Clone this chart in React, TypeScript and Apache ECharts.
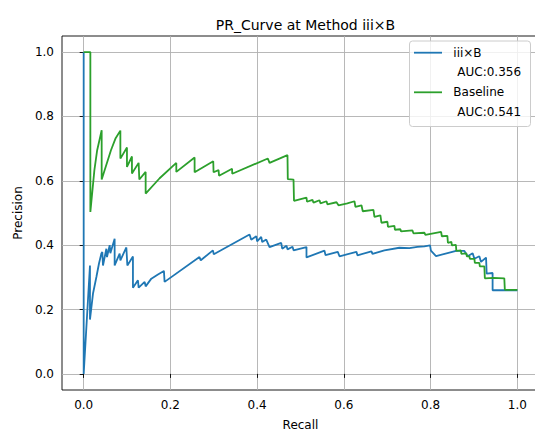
import React, { useEffect, useRef } from "react";
import * as echarts from "echarts";

const titleText = "PR_Curve at Method iii×B";
const xTicks = [0, 0.2, 0.4, 0.6, 0.8, 1.0];
const yTicks = [0, 0.2, 0.4, 0.6, 0.8, 1.0];

const seriesNames = ["iii×B", "Baseline"];
const aucLabels = ["AUC:0.356", "AUC:0.541"];
const seriesColors = ["#1f77b4", "#2ca02c"];

// [recall, precision]
const iiiCurve: [number, number][] = [
  [0, 1.0], [0, 0], [0.0145, 0.337], [0.0145, 0.169], [0.0214, 0.249], [0.0293, 0.301],
  [0.0353, 0.343], [0.0408, 0.374], [0.043, 0.379], [0.0445, 0.337], [0.0523, 0.389],
  [0.0537, 0.363], [0.06, 0.4], [0.0615, 0.375], [0.0714, 0.42], [0.0714, 0.337],
  [0.083, 0.374], [0.0846, 0.353], [0.0984, 0.393], [0.1007, 0.337], [0.1136, 0.365],
  [0.1136, 0.268], [0.1251, 0.291], [0.1267, 0.268], [0.1406, 0.286], [0.1429, 0.272],
  [0.156, 0.296], [0.1712, 0.309], [0.185, 0.32], [0.1866, 0.286], [0.267, 0.363],
  [0.27, 0.353], [0.298, 0.384], [0.3, 0.372], [0.3825, 0.433], [0.3864, 0.417],
  [0.398, 0.428], [0.4, 0.412], [0.4094, 0.4255], [0.4117, 0.41], [0.421, 0.4174],
  [0.4286, 0.394], [0.4555, 0.407], [0.4578, 0.389], [0.4677, 0.398], [0.47, 0.387],
  [0.4816, 0.395], [0.484, 0.384], [0.5138, 0.394], [0.5138, 0.362], [0.5553, 0.383],
  [0.5576, 0.369], [0.586, 0.379], [0.5899, 0.3655], [0.629, 0.3795], [0.6313, 0.3686],
  [0.6636, 0.381], [0.6659, 0.373], [0.6935, 0.384], [0.728, 0.392], [0.751, 0.391],
  [0.7696, 0.395], [0.7857, 0.3966], [0.7988, 0.3997], [0.8007, 0.383], [0.8125, 0.366],
  [0.8588, 0.3826], [0.8779, 0.382], [0.8855, 0.3655], [0.897, 0.375], [0.901, 0.358],
  [0.9124, 0.3655], [0.9163, 0.348], [0.9279, 0.3614], [0.9293, 0.3117], [0.943, 0.3135],
  [0.943, 0.26], [1.0, 0.26],
];

const baselineCurve: [number, number][] = [
  [0, 1.0], [0.0154, 1.0], [0.0154, 0.503], [0.0247, 0.633], [0.0311, 0.695], [0.0415, 0.757],
  [0.0415, 0.604], [0.0629, 0.695], [0.0737, 0.7325], [0.0846, 0.756], [0.0846, 0.669],
  [0.0998, 0.7036], [0.0998, 0.643], [0.1113, 0.6756], [0.1113, 0.6227], [0.1267, 0.6557],
  [0.1283, 0.604], [0.1429, 0.6277], [0.1429, 0.5605], [0.1751, 0.608], [0.2136, 0.6557],
  [0.2136, 0.6277], [0.2558, 0.6725], [0.2558, 0.6267], [0.2988, 0.661], [0.2995, 0.6267],
  [0.311, 0.633], [0.3122, 0.616], [0.3422, 0.6376], [0.3426, 0.622], [0.4247, 0.6694],
  [0.4286, 0.6557], [0.47, 0.6796], [0.4707, 0.605], [0.4839, 0.604], [0.485, 0.538],
  [0.5138, 0.548], [0.515, 0.535], [0.5276, 0.541], [0.53, 0.532], [0.5438, 0.5397],
  [0.546, 0.53], [0.56, 0.5365], [0.562, 0.527], [0.583, 0.5334], [0.5876, 0.524],
  [0.608, 0.53], [0.6244, 0.5365], [0.6267, 0.5194], [0.6406, 0.524], [0.6436, 0.5054],
  [0.6682, 0.51], [0.6705, 0.4883], [0.6843, 0.493], [0.6866, 0.4697], [0.7005, 0.4728],
  [0.7016, 0.4572], [0.7166, 0.4603], [0.7177, 0.4479], [0.7304, 0.4495], [0.7316, 0.4432],
  [0.758, 0.4463], [0.7604, 0.437], [0.7857, 0.4386], [0.788, 0.4323], [0.8242, 0.441],
  [0.826, 0.4277], [0.8387, 0.4292], [0.8399, 0.4075], [0.848, 0.41], [0.8491, 0.3997],
  [0.8583, 0.4012], [0.8594, 0.3826], [0.8698, 0.3841], [0.871, 0.3733], [0.8825, 0.3748],
  [0.8836, 0.3655], [0.8894, 0.3655], [0.8906, 0.3577], [0.901, 0.3577], [0.9021, 0.3453],
  [0.9124, 0.3453], [0.9136, 0.3344], [0.924, 0.3344], [0.9251, 0.297], [0.9447, 0.2986],
  [0.97, 0.297], [0.9712, 0.2613], [1.0, 0.2613],
];

const FONT = "DejaVu Sans";

export default function App() {
  const ref = useRef<HTMLDivElement>(null);
  useEffect(() => {
    if (!ref.current) return;
    const chart = echarts.init(ref.current, undefined, { renderer: "svg" });
    const gridLeft = 62;
    const gridTop = 36;
    const gridW = 477;
    const gridH = 354;
    const legendX = 409.5;
    const legendY = 41;
    const rowY = [52.7, 72.3, 92.3, 112];
    chart.setOption({
      animation: false,
      backgroundColor: "#ffffff",
      title: {
        text: titleText,
        left: 300.5,
        top: 13,
        textAlign: "center",
        textStyle: { fontFamily: FONT, fontSize: 14, fontWeight: "normal", color: "#000" },
      },
      grid: {
        left: gridLeft,
        top: gridTop,
        width: gridW,
        height: gridH,
        show: true,
        borderColor: "#000",
        borderWidth: 0.9,
        backgroundColor: "transparent",
        containLabel: false,
        outerBoundsMode: "none",
      },
      xAxis: {
        type: "value",
        min: -0.05,
        max: 1.05,
        name: "Recall",
        nameLocation: "middle",
        nameGap: 29,
        nameTextStyle: { fontFamily: FONT, fontSize: 12, color: "#000" },
        axisLine: { show: false },
        axisTick: { show: true, length: 4, lineStyle: { color: "#000", width: 0.9 }, customValues: xTicks },
        axisLabel: {
          fontFamily: FONT, fontSize: 12, color: "#000", margin: 9,
          customValues: xTicks,
          formatter: (v: number) => v.toFixed(1),
        },
        splitLine: { show: true, lineStyle: { color: "#b0b0b0", width: 0.9 } },
      },
      yAxis: {
        type: "value",
        min: -0.05,
        max: 1.05,
        name: "Precision",
        nameLocation: "middle",
        nameGap: 38,
        nameTextStyle: { fontFamily: FONT, fontSize: 12, color: "#000" },
        axisLine: { show: false },
        axisTick: { show: true, length: 4, lineStyle: { color: "#000", width: 0.9 }, customValues: yTicks },
        axisLabel: {
          fontFamily: FONT, fontSize: 12, color: "#000", margin: 8,
          customValues: yTicks,
          formatter: (v: number) => v.toFixed(1),
        },
        splitLine: { show: true, lineStyle: { color: "#b0b0b0", width: 0.9 } },
      },
      series: [
        {
          name: seriesNames[0],
          type: "line",
          data: iiiCurve,
          showSymbol: false,
          lineStyle: { color: seriesColors[0], width: 1.8 },
          itemStyle: { color: seriesColors[0] },
          z: 3,
        },
        {
          name: seriesNames[1],
          type: "line",
          data: baselineCurve,
          showSymbol: false,
          lineStyle: { color: seriesColors[1], width: 1.8 },
          itemStyle: { color: seriesColors[1] },
          z: 4,
        },
      ],
      graphic: [
        {
          type: "rect",
          z: 100,
          shape: { x: legendX, y: legendY, width: 121, height: 85.5, r: 3 },
          style: { fill: "rgba(255,255,255,0.8)", stroke: "#cccccc", lineWidth: 1 },
        },
        {
          type: "line", z: 101,
          shape: { x1: 414, y1: rowY[0], x2: 442, y2: rowY[0] },
          style: { stroke: seriesColors[0], lineWidth: 1.8 },
        },
        {
          type: "line", z: 101,
          shape: { x1: 414, y1: rowY[2], x2: 442, y2: rowY[2] },
          style: { stroke: seriesColors[1], lineWidth: 1.8 },
        },
        {
          type: "text", z: 101, x: 453.3, y: rowY[0],
          style: { text: seriesNames[0], font: `12px '${FONT}'`, fill: "#000", textVerticalAlign: "middle" },
        },
        {
          type: "text", z: 101, x: 457.3, y: rowY[1],
          style: { text: aucLabels[0], font: `12px '${FONT}'`, fill: "#000", textVerticalAlign: "middle" },
        },
        {
          type: "text", z: 101, x: 453.3, y: rowY[2],
          style: { text: seriesNames[1], font: `12px '${FONT}'`, fill: "#000", textVerticalAlign: "middle" },
        },
        {
          type: "text", z: 101, x: 457.3, y: rowY[3],
          style: { text: aucLabels[1], font: `12px '${FONT}'`, fill: "#000", textVerticalAlign: "middle" },
        },
      ],
    });
    return () => chart.dispose();
  }, []);
  return (
    <div
      ref={ref}
      style={{ position: "fixed", left: 0, top: 0, width: 535, height: 434, background: "#fff" }}
    />
  );
}
